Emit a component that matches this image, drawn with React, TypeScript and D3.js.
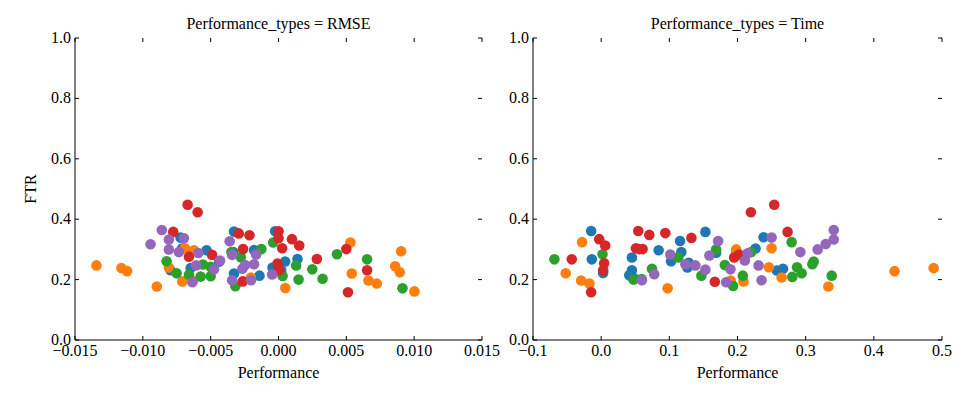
import * as d3 from "d3";

type P = [number, number];
const colors = ["#1f77b4", "#ff7f0e", "#2ca02c", "#d62728", "#9467bd"];

// RMSE panel, one array per group
const rmseBlue: P[] = [[-0.00722,0.339],[-0.0071,0.303],[-0.00796,0.231],[-0.00648,0.238],[-0.0053,0.297],[-0.00438,0.259],[-0.00328,0.359],[-0.00333,0.291],[-0.00328,0.22],[-0.0018,0.298],[-0.0014,0.213],[-0.00025,0.36],[-0.00044,0.24],[0.00049,0.26],[0.0014,0.268],[0.0002,0.231]];
const rmseOrange: P[] = [[-0.01342,0.247],[-0.01158,0.238],[-0.01116,0.228],[-0.00897,0.177],[-0.00808,0.24],[-0.00709,0.194],[-0.0069,0.304],[-0.00623,0.297],[-0.0063,0.196],[-0.00204,0.207],[0.0005,0.172],[0.0053,0.323],[0.0054,0.22],[0.00663,0.197],[0.00724,0.187],[0.0086,0.244],[0.00894,0.224],[0.00904,0.294],[0.01002,0.161]];
const rmseGreen: P[] = [[-0.00825,0.261],[-0.00751,0.221],[-0.0066,0.216],[-0.00574,0.21],[-0.00557,0.25],[-0.005,0.211],[-0.005,0.242],[-0.00347,0.291],[-0.00318,0.178],[-0.00278,0.274],[-0.00126,0.301],[-0.00039,0.323],[0.0003,0.212],[0.0013,0.247],[0.00148,0.2],[0.00249,0.234],[0.00325,0.203],[0.00431,0.284],[0.00653,0.267],[0.00914,0.171]];
const rmseRed: P[] = [[-0.0067,0.448],[-0.00596,0.423],[-0.00776,0.358],[-0.0066,0.276],[-0.0049,0.282],[-0.00293,0.353],[-0.00214,0.347],[-0.00261,0.301],[-0.00264,0.194],[0,0.36],[0,0.337],[0.00027,0.304],[-0.00007,0.253],[0.00005,0.231],[0.00099,0.334],[0.00153,0.313],[0.00283,0.268],[0.005,0.301],[0.00512,0.158],[0.00653,0.231]];
const rmsePurple: P[] = [[-0.0086,0.364],[-0.00943,0.317],[-0.00808,0.333],[-0.00808,0.3],[-0.00697,0.337],[-0.00734,0.291],[-0.00591,0.288],[-0.00608,0.247],[-0.00635,0.191],[-0.00431,0.263],[-0.00475,0.234],[-0.0036,0.327],[-0.00342,0.282],[-0.00342,0.198],[-0.00266,0.236],[-0.00246,0.248],[-0.0018,0.251],[-0.00165,0.283],[-0.00202,0.198],[-0.00047,0.217]];

// Time panel
const timeBlue: P[] = [[-0.0147,0.361],[-0.0137,0.267],[0.0029,0.222],[0.0451,0.273],[0.0451,0.231],[0.0412,0.214],[0.047,0.207],[0.0843,0.297],[0.1025,0.261],[0.1157,0.328],[0.1176,0.291],[0.1284,0.256],[0.1265,0.24],[0.1529,0.358],[0.1686,0.289],[0.2265,0.303],[0.2382,0.34],[0.2578,0.23],[0.2667,0.236],[0.198,0.296]];
const timeOrange: P[] = [[-0.028,0.324],[-0.052,0.221],[-0.0294,0.197],[-0.0172,0.187],[0.0975,0.171],[0.198,0.3],[0.19,0.197],[0.2088,0.194],[0.25,0.304],[0.246,0.241],[0.2647,0.207],[0.3333,0.177],[0.4304,0.228],[0.4877,0.238]];
const timeGreen: P[] = [[-0.0686,0.267],[0.002,0.284],[0.0475,0.2],[0.0593,0.202],[0.0745,0.236],[0.1132,0.273],[0.147,0.213],[0.1686,0.3],[0.1814,0.248],[0.1936,0.179],[0.2078,0.213],[0.2201,0.291],[0.2794,0.324],[0.2873,0.241],[0.2804,0.209],[0.2941,0.221],[0.3098,0.251],[0.3118,0.26],[0.3382,0.213]];
const timeRed: P[] = [[-0.0431,0.267],[-0.0147,0.158],[-0.0029,0.334],[0.0059,0.313],[0.0044,0.254],[0.0029,0.231],[0.0544,0.361],[0.051,0.304],[0.0608,0.301],[0.0559,0.301],[0.0706,0.348],[0.0941,0.354],[0.1324,0.338],[0.1667,0.193],[0.1951,0.273],[0.202,0.283],[0.2196,0.423],[0.2539,0.448],[0.2735,0.358]];
const timePurple: P[] = [[0.0598,0.198],[0.0779,0.218],[0.1015,0.283],[0.1235,0.251],[0.1382,0.247],[0.1529,0.233],[0.1588,0.28],[0.1716,0.328],[0.1833,0.191],[0.1897,0.234],[0.2108,0.263],[0.2147,0.287],[0.2309,0.247],[0.2353,0.198],[0.25,0.339],[0.2922,0.291],[0.3176,0.3],[0.3294,0.318],[0.3412,0.333],[0.3412,0.364]];

const rmseTicks = [-0.015, -0.01, -0.005, 0, 0.005, 0.01, 0.015];
const timeTicks = [-0.1, 0, 0.1, 0.2, 0.3, 0.4, 0.5];
const yTicks = [0, 0.2, 0.4, 0.6, 0.8, 1.0];

const font = "'Liberation Serif', 'Times New Roman', serif";
const top = 38, bottom = 340;

function Panel({ x0, x1, domain, ticks, fmt, title, groups, yLabel }: {
  x0: number; x1: number; domain: [number, number]; ticks: number[];
  fmt: (v: number) => string; title: string; groups: P[][]; yLabel?: boolean;
}) {
  const x = d3.scaleLinear().domain(domain).range([x0, x1]);
  const y = d3.scaleLinear().domain([0, 1]).range([bottom, top]);
  const tl = 4;
  return (
    <g fontFamily={font} fontSize={16} fill="#000">
      <text x={(x0 + x1) / 2} y={top - 9} textAnchor="middle">{title}</text>
      {yLabel && (
        <text transform={`translate(${x0 - 39},${(top + bottom) / 2}) rotate(-90)`} textAnchor="middle">FTR</text>
      )}
      <text x={(x0 + x1) / 2} y={bottom + 38} textAnchor="middle">Performance</text>
      {groups.map((g, gi) =>
        g.map((p, i) => (
          <circle key={`${gi}-${i}`} cx={x(p[0])} cy={y(p[1])} r={5.3} fill={colors[gi]} />
        ))
      )}
      <line x1={x0} x2={x0} y1={top} y2={bottom} stroke="#000" strokeWidth={1} />
      <line x1={x0} x2={x1} y1={bottom} y2={bottom} stroke="#000" strokeWidth={1} />
      {ticks.map((t) => (
        <g key={t}>
          <line x1={x(t)} x2={x(t)} y1={bottom} y2={bottom - tl} stroke="#000" />
          <line x1={x(t)} x2={x(t)} y1={top} y2={top + tl} stroke="#000" />
          <text x={x(t)} y={bottom + 16} textAnchor="middle">{fmt(t)}</text>
        </g>
      ))}
      {yTicks.map((t) => (
        <g key={t}>
          <line x1={x0} x2={x0 + tl} y1={y(t)} y2={y(t)} stroke="#000" />
          <line x1={x1} x2={x1 - tl} y1={y(t)} y2={y(t)} stroke="#000" />
          <text x={x0 - 4} y={y(t) + 5} textAnchor="end">{t.toFixed(1)}</text>
        </g>
      ))}
    </g>
  );
}

export default function App() {
  return (
    <svg width={960} height={400} style={{ position: "absolute", left: 0, top: 0, background: "#fff" }}>
      <Panel x0={75} x1={482} domain={[-0.015, 0.015]} ticks={rmseTicks}
        fmt={(v) => (v < 0 ? "\u2212" : "") + Math.abs(v).toFixed(3)}
        title="Performance_types = RMSE" yLabel
        groups={[rmseBlue, rmseOrange, rmseGreen, rmseRed, rmsePurple]} />
      <Panel x0={533} x1={942} domain={[-0.1, 0.5]} ticks={timeTicks}
        fmt={(v) => (v < 0 ? "\u2212" : "") + Math.abs(v).toFixed(1)}
        title="Performance_types = Time"
        groups={[timeBlue, timeOrange, timeGreen, timeRed, timePurple]} />
    </svg>
  );
}
